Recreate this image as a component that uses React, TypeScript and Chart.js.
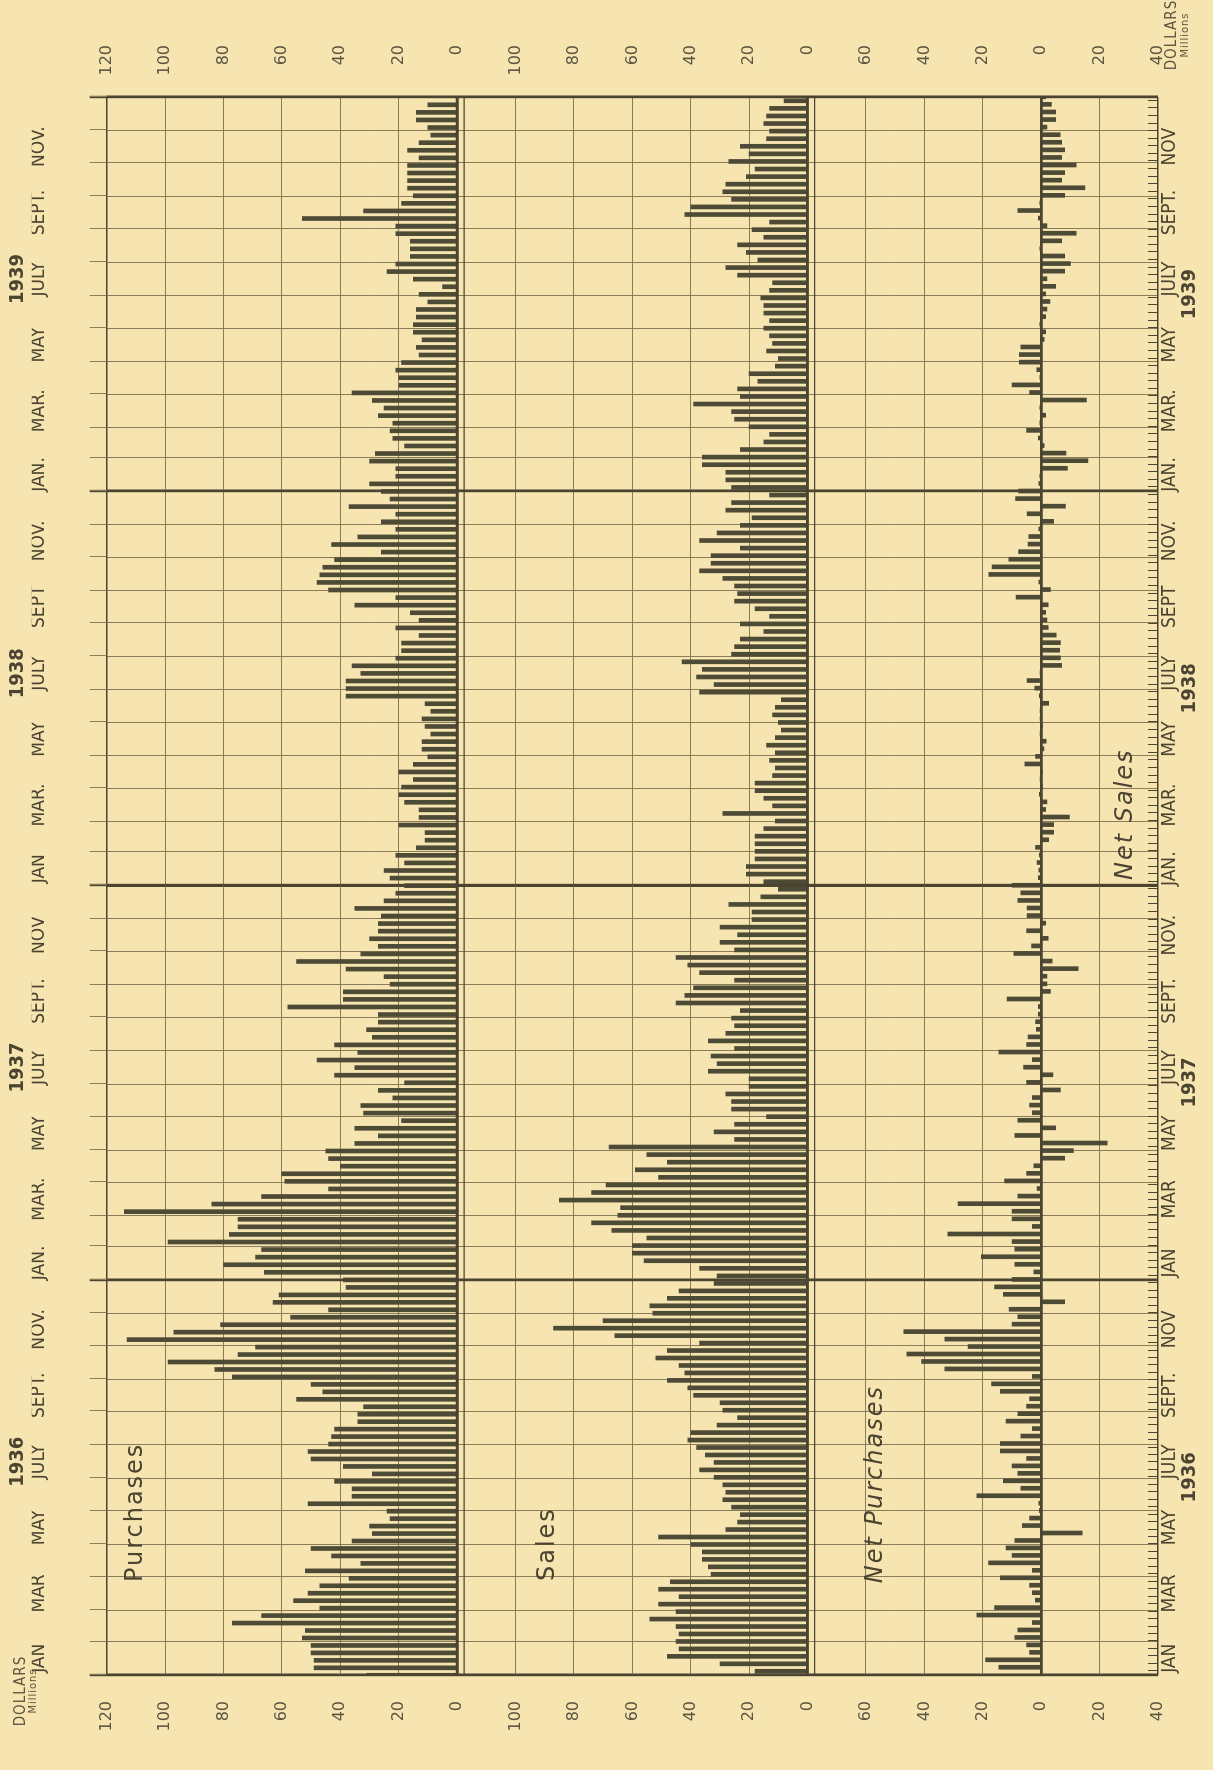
import React, { useEffect, useRef } from "react";
import { Chart, registerables } from "chart.js";

Chart.register(...registerables);

// ---------------- data (weekly, millions of dollars) ----------------
const YEARS = [1936, 1937, 1938, 1939];

const PURCHASES_1936 = [31, 49, 49, 50, 50, 53, 52, 77, 67, 47, 56, 51, 47, 37, 52, 33, 43, 50, 36, 29, 30, 23, 24, 51, 36, 36, 42, 29, 39, 50, 51, 44, 43, 42, 34, 34, 32, 55, 46, 50, 77, 83, 99, 75, 69, 113, 97, 81, 57, 44, 63, 61, 38];
const PURCHASES_1937 = [39, 66, 80, 69, 67, 99, 78, 75, 75, 114, 84, 67, 44, 59, 60, 40, 44, 45, 35, 27, 35, 19, 32, 33, 22, 27, 18, 42, 35, 48, 34, 42, 29, 31, 27, 27, 58, 39, 39, 23, 25, 38, 55, 33, 27, 30, 27, 27, 26, 35, 25, 21];
const PURCHASES_1938 = [18, 23, 25, 18, 21, 14, 11, 11, 20, 13, 13, 18, 20, 19, 15, 20, 15, 10, 12, 12, 9, 11, 12, 9, 11, 38, 38, 38, 33, 36, 21, 19, 19, 13, 21, 13, 16, 35, 21, 44, 48, 47, 46, 42, 26, 43, 34, 21, 26, 21, 37, 23];
const PURCHASES_1939 = [26, 30, 21, 21, 30, 28, 18, 22, 23, 22, 27, 25, 29, 36, 20, 20, 21, 19, 13, 14, 12, 15, 15, 14, 14, 10, 13, 5, 15, 24, 21, 16, 16, 16, 21, 21, 53, 32, 19, 15, 17, 17, 17, 17, 13, 17, 13, 9, 10, 14, 14, 10];

const SALES_1936 = [18, 30, 48, 44, 45, 44, 45, 54, 45, 51, 44, 51, 47, 33, 34, 36, 36, 40, 51, 28, 24, 23, 26, 29, 28, 29, 32, 37, 32, 35, 38, 41, 40, 31, 24, 29, 30, 39, 41, 48, 42, 44, 52, 48, 37, 66, 87, 70, 53, 54, 48, 44, 32];
const SALES_1937 = [31, 37, 56, 60, 60, 55, 67, 74, 65, 64, 85, 74, 69, 51, 59, 48, 55, 68, 25, 32, 25, 14, 26, 26, 28, 20, 20, 34, 31, 33, 25, 34, 28, 25, 26, 23, 45, 42, 39, 25, 37, 41, 45, 25, 30, 24, 30, 19, 19, 27, 16, 10];
const SALES_1938 = [15, 21, 21, 18, 18, 18, 18, 15, 11, 29, 12, 15, 18, 18, 12, 11, 13, 11, 14, 11, 9, 10, 12, 11, 9, 37, 32, 38, 36, 43, 26, 25, 23, 15, 23, 13, 18, 25, 24, 25, 29, 37, 33, 33, 23, 37, 31, 23, 19, 28, 26, 13];
const SALES_1939 = [26, 28, 28, 36, 36, 23, 15, 13, 20, 25, 26, 39, 23, 24, 17, 20, 11, 10, 14, 12, 13, 15, 13, 15, 15, 16, 13, 12, 24, 28, 17, 21, 24, 15, 19, 13, 42, 40, 26, 29, 28, 21, 18, 27, 20, 23, 14, 13, 15, 14, 13, 8];

// positive = net purchases, negative = net sales
const NET_1936 = [14.5, 19, 4, 5, 9, 8, 3, 22, 16, 2, 3, 4, 14, 3, 18, 10, 12, 9, -14, 6.5, 4, 0.6, 0.8, 22, 7, 13, 8, 10, 5, 14, 14, 7, 3, 12, 8, 5, 4, 14, 17, 3, 33, 41, 46, 25, 33, 47, 10, 8, 11, -8, 13, 16, 10];
const NET_1937 = [2.5, 9, 20.5, 9, 10, 32, 3, 10, 10, 28.5, 8, 1.4, 12.5, 5, 2.5, -8, -11, -22.6, 9, -5, 8, 3, 4, 3, -6.6, 5, -4, 6, 3, 14.5, 5, 4.5, 1.7, 1.9, 1, 1, 11.7, -3.2, -2, -2, -12.7, -3.8, 9.4, 3.3, -2.4, 5, -1.5, 4.8, 4.8, 8, 7, 10];
const NET_1938 = [1, 0.8, 1.4, 0.6, 1.9, -2.6, -4.3, -4.3, -9.7, -1.5, -2, 0.6, -0.4, 0.4, -0.4, 5.6, 1.9, -0.9, -1.7, 0.4, -0.4, 0.4, 0.4, -2.6, 0.6, 2.2, 4.8, 0.4, -7, -6.6, -6.3, -6.6, -5.1, -2.4, -2, -1.5, -2.4, 8.6, -3.2, 0.8, 17.9, 16.8, 11.1, 7.7, 4.5, 4.2, 0.8, -4.3, 4.8, -8.3, 8.8, 7.7];
const NET_1939 = [0.8, 0.5, -9, -16, -8.5, -1, 1, 5, 0.5, -1.5, 0.5, -15.5, 4, 10, 0.5, 1.5, 7.5, 7.5, 7, -1, -1.5, 0.5, -1.5, -2, -3, -1.5, -5, -2, -8, -10, -8, 0.5, -7, -12, -2, 1, 8, 0.5, -8, -15, -7, -8, -12, -7, -8, -7, -6.5, -2, -5, -5, -3.5, -1.5];

const MONTHS_TOP = [
  "JAN", "MAR", "MAY", "JULY", "SEPT.", "NOV.",
  "JAN.", "MAR.", "MAY", "JULY", "SEPT.", "NOV",
  "JAN", "MAR.", "MAY", "JULY", "SEPT", "NOV.",
  "JAN.", "MAR.", "MAY", "JULY", "SEPT.", "NOV.",
];
const MONTHS_BOTTOM = [
  "JAN", "MAR", "MAY", "JULY", "SEPT.", "NOV",
  "JAN", "MAR", "MAY", "JULY", "SEPT.", "NOV.",
  "JAN.", "MAR.", "MAY", "JULY", "SEPT", "NOV.",
  "JAN.", "MAR.", "MAY", "JULY", "SEPT.", "NOV",
];

const PURCHASE_TICKS = [0, 20, 40, 60, 80, 100, 120];
const SALES_TICKS = [0, 20, 40, 60, 80, 100];
const NET_TICKS = [-40, -20, 0, 20, 40, 60];

// ---------------- styles ----------------
const PAPER = "#f7e5b1";
const INK = "#4a4430";
const LABEL = "#5a5440";
const GRID = "#8a7c58";
const BAR = "#4d4a36";
const NARROW = "'Liberation Sans Narrow', 'DejaVu Sans Condensed', 'Liberation Sans', sans-serif";
const VALUE_FONT = { family: "'DejaVu Sans', sans-serif", size: 16 };
const MONTH_FONT = { family: NARROW, size: 19, lineHeight: 1 };
const YEAR_FONT = { family: NARROW, size: 20, weight: "bold" as const, lineHeight: 1 };

// ---------------- time helpers ----------------
const DAY = 86400000;
const dayOf = (y: number, m: number) => (Date.UTC(y, m, 1) - Date.UTC(1936, 0, 1)) / DAY;
const TOTAL_DAYS = dayOf(1940, 0);

function weekly(perYear: number[][]) {
  const pts: { x: number; y: number }[] = [];
  perYear.forEach((vals, yi) => {
    const start = dayOf(YEARS[yi], 0);
    const end = dayOf(YEARS[yi] + 1, 0);
    const step = (end - start) / vals.length;
    vals.forEach((v, j) => pts.push({ x: start + (j + 0.5) * step, y: v }));
  });
  return pts;
}

const MONTH_BOUNDS: number[] = [];
YEARS.forEach((y) => { for (let m = 0; m < 12; m++) MONTH_BOUNDS.push(dayOf(y, m)); });
MONTH_BOUNDS.push(TOTAL_DAYS);
const YEAR_BOUNDS = [...YEARS.map((y) => dayOf(y, 0)), TOTAL_DAYS];
const LABEL_MONTHS: number[] = [];
YEARS.forEach((y) => { for (let m = 0; m < 12; m += 2) LABEL_MONTHS.push((dayOf(y, m) + dayOf(y, m + 1)) / 2); });
const YEAR_CENTERS = YEARS.map((y) => (dayOf(y, 0) + dayOf(y + 1, 0)) / 2);
const isYearBound = (v: number) => YEAR_BOUNDS.some((b) => Math.abs(b - v) < 0.01);

// ---------------- scale builders ----------------
function labelAxis(position: string, weight: number, values: number[], labels: string[], font: any, padding: number, height: number) {
  return {
    type: "linear", position, weight, min: 0, max: TOTAL_DAYS, offset: false,
    afterBuildTicks: (s: any) => { s.ticks = values.map((v) => ({ value: v })); },
    afterFit: (s: any) => { s.height = height; },
    ticks: { autoSkip: false, maxRotation: 0, minRotation: 0, padding, font, color: INK, callback: (_v: any, i: number) => labels[i] },
    grid: { display: false, drawTicks: false },
    border: { display: false },
  };
}

function valueAxis(position: "left" | "right", weight: number, min: number, max: number, shown: number[], gridOn: boolean, special: (v: number) => [string, number] | null) {
  return {
    type: "linear", position, stack: position, stackWeight: 1, weight, min, max,
    afterFit: (s: any) => { s.width = position === "left" ? 95 : 52; },
    ticks: {
      stepSize: 20, autoSkip: false, padding: position === "left" ? 26 : 0,
      crossAlign: position === "left" ? "near" : "far",
      font: VALUE_FONT, color: LABEL,
      callback: (v: number) => (shown.includes(v) ? String(Math.abs(v)) : ""),
    },
    grid: gridOn
      ? {
          drawTicks: false,
          color: (c: any) => { const sp = special(c.tick.value); return sp ? sp[0] : GRID; },
          lineWidth: (c: any) => { const sp = special(c.tick.value); return sp ? sp[1] : 1; },
        }
      : { display: false, drawTicks: false },
    border: { display: false },
  };
}

const pSpecial = (v: number): [string, number] | null => (v === 0 ? [INK, 2.6] : v === 120 ? [INK, 1.6] : null);
const sSpecial = (v: number): [string, number] | null => (v === 0 ? [INK, 2.6] : v === 120 ? ["rgba(0,0,0,0)", 0] : null);
const nSpecial = (v: number): [string, number] | null => (v === 0 ? [INK, 2.4] : v === 80 ? ["rgba(0,0,0,0)", 0] : v === -40 ? [INK, 1.6] : null);

// ---------------- decoration plugin ----------------
const decor = {
  id: "decor",
  afterDatasetsDraw(chart: any) {
    const { ctx, chartArea: a, scales } = chart;
    const x = scales.x;
    const line = (x1: number, y1: number, x2: number, y2: number) => { ctx.beginPath(); ctx.moveTo(x1, y1); ctx.lineTo(x2, y2); ctx.stroke(); };
    ctx.save();
    ctx.strokeStyle = INK;
    // year lines
    ctx.lineWidth = 2.4;
    YEAR_BOUNDS.forEach((d) => { const px = Math.round(x.getPixelForValue(d)); line(px, a.top - 17, px, a.bottom); });
    // month lines extended beyond the top edge
    ctx.lineWidth = 1;
    ctx.strokeStyle = GRID;
    MONTH_BOUNDS.forEach((d) => { const px = Math.round(x.getPixelForValue(d)) + 0.5; line(px, a.top, px, a.top - 17); });
    // secondary panel edges
    ctx.strokeStyle = INK;
    ctx.lineWidth = 1.2;
    const sEdge = scales.yS.getPixelForValue(117.6);
    const nEdge = scales.yN.getPixelForValue(77.6);
    line(a.left, sEdge, a.right, sEdge);
    line(a.left, nEdge, a.right, nEdge);
    // weekly ticks along the lower edge
    ctx.lineWidth = 1;
    chart.data.datasets[2].data.forEach((p: any) => {
      const px = Math.round(x.getPixelForValue(p.x)) + 0.5;
      line(px, a.bottom - 10, px, a.bottom);
    });
    // zero lines
    ctx.lineWidth = 2.6;
    [scales.yP.getPixelForValue(0), scales.yS.getPixelForValue(0), scales.yN.getPixelForValue(0)].forEach((py: number) => line(a.left, py, a.right, py));

    // panel titles
    ctx.fillStyle = INK;
    ctx.textBaseline = "alphabetic";
    ctx.textAlign = "left";
    (ctx as any).letterSpacing = "2px";
    ctx.font = "24px 'DejaVu Sans', sans-serif";
    ctx.fillText("Purchases", x.getPixelForValue(86), scales.yP.getPixelForValue(108));
    ctx.fillText("Sales", x.getPixelForValue(87), scales.yS.getPixelForValue(87));
    ctx.font = "italic 24px 'DejaVu Sans', sans-serif";
    ctx.fillText("Net Purchases", x.getPixelForValue(85), scales.yN.getPixelForValue(54.5));
    ctx.fillText("Net Sales", x.getPixelForValue(736), scales.yN.getPixelForValue(-31));
    // unit captions
    (ctx as any).letterSpacing = "1px";
    ctx.textAlign = "center";
    ctx.fillStyle = LABEL;
    ctx.font = "15px " + NARROW;
    ctx.fillText("DOLLARS", a.left - 16, 25);
    ctx.font = "11px " + NARROW;
    ctx.fillText("Millions", a.left - 16, 36);
    ctx.font = "15px " + NARROW;
    ctx.fillText("DOLLARS", a.right + 62, a.bottom + 18);
    ctx.font = "11px " + NARROW;
    ctx.fillText("Millions", a.right + 62, a.bottom + 30);
    ctx.restore();
  },
};

export default function App() {
  const ref = useRef<HTMLCanvasElement>(null);
  useEffect(() => {
    const canvas = ref.current;
    if (!canvas) return;
    const chart = new Chart(canvas, {
      type: "bar",
      data: {
        datasets: [
          { label: "Purchases", data: weekly([PURCHASES_1936, PURCHASES_1937, PURCHASES_1938, PURCHASES_1939]), xAxisID: "x", yAxisID: "yP", backgroundColor: BAR, barThickness: 4, borderWidth: 0 },
          { label: "Sales", data: weekly([SALES_1936, SALES_1937, SALES_1938, SALES_1939]), xAxisID: "x", yAxisID: "yS", backgroundColor: BAR, barThickness: 4, borderWidth: 0 },
          { label: "Net", data: weekly([NET_1936, NET_1937, NET_1938, NET_1939]), xAxisID: "x", yAxisID: "yN", backgroundColor: BAR, barThickness: 4, borderWidth: 0 },
        ] as any,
      },
      options: {
        animation: false,
        responsive: false,
        maintainAspectRatio: false,
        layout: { padding: { left: 0, right: 45, top: 0, bottom: 0 } },
        plugins: { legend: { display: false }, tooltip: { enabled: false } },
        scales: {
          x: {
            type: "linear", position: "bottom", weight: 0, min: 0, max: TOTAL_DAYS, offset: false,
            afterBuildTicks: (s: any) => { s.ticks = MONTH_BOUNDS.map((v) => ({ value: v })); },
            afterFit: (s: any) => { s.height = 0; },
            ticks: { display: false, autoSkip: false },
            grid: {
              drawTicks: false, offset: false,
              color: (c: any) => (isYearBound(c.tick.value) ? INK : GRID),
              lineWidth: (c: any) => (isYearBound(c.tick.value) ? 2.4 : 1),
            },
            border: { display: false },
          },
          xMonthB: labelAxis("bottom", 1, LABEL_MONTHS, MONTHS_BOTTOM, MONTH_FONT, 3, 22),
          xYearB: labelAxis("bottom", 2, YEAR_CENTERS, YEARS.map(String), YEAR_FONT, 0, 33),
          xMonthT: labelAxis("top", 1, LABEL_MONTHS, MONTHS_TOP, MONTH_FONT, 58, 75),
          xYearT: labelAxis("top", 2, LABEL_MONTHS.filter((_, i) => i % 6 === 3), YEARS.map(String), YEAR_FONT, 4, 31.7),
          yP: valueAxis("left", 3, 0, 120, PURCHASE_TICKS, true, pSpecial),
          yS: valueAxis("left", 2, 0, 120, SALES_TICKS, true, sSpecial),
          yN: valueAxis("left", 1, -40, 80, NET_TICKS, true, nSpecial),
          yPr: valueAxis("right", 1, 0, 120, PURCHASE_TICKS, false, pSpecial),
          ySr: valueAxis("right", 2, 0, 120, SALES_TICKS, false, sSpecial),
          yNr: valueAxis("right", 3, -40, 80, NET_TICKS, false, nSpecial),
        } as any,
      },
      plugins: [decor],
    });
    return () => chart.destroy();
  }, []);

  return (
    <div style={{ position: "absolute", left: 0, top: 0, width: 1213, height: 1770, overflow: "hidden", background: PAPER }}>
      <div style={{ position: "absolute", left: 0, top: 0, width: 1770, height: 1213, transformOrigin: "0 0", transform: "translateY(1770px) rotate(-90deg)" }}>
        <canvas ref={ref} width={1770} height={1213} style={{ display: "block", width: 1770, height: 1213 }} />
      </div>
    </div>
  );
}
